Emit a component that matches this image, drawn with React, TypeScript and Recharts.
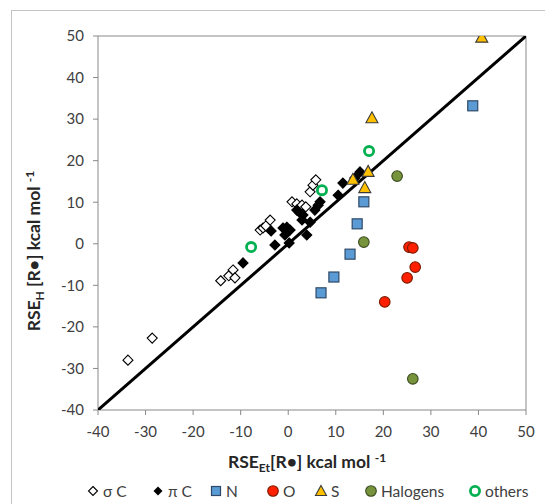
import { ScatterChart, Scatter, XAxis, YAxis, ReferenceLine, Label } from "recharts";

const ticks = [-40, -30, -20, -10, 0, 10, 20, 30, 40, 50];

const sigmaC = [
  { x: -33.7, y: -28 }, { x: -28.6, y: -22.7 }, { x: -14.2, y: -8.9 }, { x: -12.5, y: -7.7 },
  { x: -11.6, y: -6.3 }, { x: -11.2, y: -8.2 }, { x: -5.9, y: 3.3 }, { x: -5.3, y: 3.8 },
  { x: -4.7, y: 4.3 }, { x: -3.8, y: 5.7 }, { x: 0.8, y: 10.1 }, { x: 1.8, y: 9.6 },
  { x: 2.9, y: 9.3 }, { x: 3.7, y: 8.9 }, { x: 4.6, y: 12.5 }, { x: 5.2, y: 14.1 }, { x: 5.8, y: 15.4 },
];

const piC = [
  { x: -9.5, y: -4.6 }, { x: -3.6, y: 3.1 }, { x: -2.8, y: -0.3 }, { x: -1.1, y: 3.8 },
  { x: -0.3, y: 4.0 }, { x: 0.2, y: 0.2 }, { x: 0.4, y: 3.3 }, { x: -0.7, y: 2.1 },
  { x: 1.8, y: 8.1 }, { x: 2.5, y: 7.4 }, { x: 2.9, y: 5.7 }, { x: 3.1, y: 6.9 },
  { x: 3.9, y: 2.1 }, { x: 4.6, y: 5.2 }, { x: 5.6, y: 8.1 }, { x: 6.3, y: 9.3 },
  { x: 6.7, y: 10.1 }, { x: 10.5, y: 11.7 }, { x: 11.5, y: 14.6 }, { x: 14.0, y: 15.8 }, { x: 15.1, y: 17.3 },
];

const nitrogen = [
  { x: 15.9, y: 10.1 }, { x: 14.5, y: 4.8 }, { x: 13.0, y: -2.5 },
  { x: 9.6, y: -8.0 }, { x: 6.9, y: -11.8 }, { x: 38.8, y: 33.2 },
];

const oxygen = [
  { x: 25.4, y: -0.8 }, { x: 26.2, y: -1.0 }, { x: 26.7, y: -5.6 },
  { x: 25.0, y: -8.2 }, { x: 20.3, y: -14.0 },
];

const sulfur = [
  { x: 16.8, y: 17.3 }, { x: 13.6, y: 15.4 }, { x: 16.1, y: 13.4 },
  { x: 17.6, y: 30.2 }, { x: 40.7, y: 49.6 },
];

const halogens = [{ x: 22.9, y: 16.3 }, { x: 15.9, y: 0.4 }, { x: 26.2, y: -32.5 }];

const others = [{ x: 17.0, y: 22.3 }, { x: 7.1, y: 12.9 }, { x: -7.8, y: -0.8 }];

const diagonal = [{ x: -40, y: -40 }, { x: 50, y: 50 }];

const legendItems = [
  { name: "σ C", kind: "openDiamond", left: 78 },
  { name: "π C", kind: "diamond", left: 143 },
  { name: "N", kind: "square", left: 201 },
  { name: "O", kind: "circle", left: 258 },
  { name: "S", kind: "triangle", left: 306 },
  { name: "Halogens", kind: "olive", left: 356 },
  { name: "others", kind: "ring", left: 460 },
];

const gray = "#898989";
const font = "Lato, 'Open Sans', sans-serif";

const diamond = (fill: string) => (p: any) => {
  const { cx, cy } = p;
  const r = 5;
  return (
    <path
      d={`M${cx},${cy - r}L${cx + r},${cy}L${cx},${cy + r}L${cx - r},${cy}Z`}
      fill={fill}
      stroke="#000"
      strokeWidth={1.1}
    />
  );
};

const square = (p: any) => (
  <rect x={p.cx - 5} y={p.cy - 5} width={10} height={10} fill="#5B9BD5" stroke="#2F4A68" strokeWidth={1.2} />
);

const dot = (fill: string, stroke: string) => (p: any) => (
  <circle cx={p.cx} cy={p.cy} r={5.3} fill={fill} stroke={stroke} strokeWidth={1.1} />
);

const triangle = (p: any) => {
  const { cx, cy } = p;
  return (
    <path
      d={`M${cx},${cy - 6.5}L${cx + 6},${cy + 4.5}L${cx - 6},${cy + 4.5}Z`}
      fill="#FFC000"
      stroke="#3A3A3A"
      strokeWidth={1.1}
    />
  );
};

const ring = (p: any) => (
  <circle cx={p.cx} cy={p.cy} r={4.6} fill="#fff" stroke="#00B050" strokeWidth={2.8} />
);

const noShape = () => <g />;

function LegendSymbol({ kind }: { kind: string }) {
  const c = { cx: 7, cy: 8 };
  let el;
  if (kind === "openDiamond") el = <path d="M7,3.5L11.5,8L7,12.5L2.5,8Z" fill="#fff" stroke="#000" strokeWidth={1.1} />;
  else if (kind === "diamond") el = <path d="M7,3.5L11.5,8L7,12.5L2.5,8Z" fill="#000" />;
  else if (kind === "square") el = <rect x={2.5} y={3.5} width={9} height={9} fill="#5B9BD5" stroke="#2F4A68" strokeWidth={1.2} />;
  else if (kind === "circle") el = dot("#FF2000", "#7A1A00")(c);
  else if (kind === "triangle") el = <path d="M7,2.5L12.5,12.5L1.5,12.5Z" fill="#FFC000" stroke="#3A3A3A" strokeWidth={1.1} />;
  else if (kind === "olive") el = dot("#77933C", "#3A4A20")(c);
  else el = ring(c);
  return (
    <svg width={14} height={16} style={{ display: "block" }}>
      {el}
    </svg>
  );
}

const xTitle = (props: any) => {
  const { viewBox } = props;
  const cx = viewBox.x + viewBox.width / 2 - 5;
  return (
    <text x={cx} y={460} textAnchor="middle" fontFamily={font} fontSize={17.5} fontWeight="bold" fill="#262626">
      RSE
      <tspan dy={4} fontSize={12}>Et</tspan>
      <tspan dy={-4}>[R•] kcal mol </tspan>
      <tspan dy={-6} fontSize={12}>-1</tspan>
    </text>
  );
};

const yTitle = () => {
  const x = 32;
  const y = 243;
  return (
    <text
      x={x}
      y={y}
      transform={`rotate(-90 ${x} ${y})`}
      textAnchor="middle"
      fontFamily={font}
      fontSize={17.5}
      fontWeight="bold"
      fill="#262626"
    >
      RSE
      <tspan dy={4} fontSize={12}>H</tspan>
      <tspan dy={-4}> [R•] kcal mol </tspan>
      <tspan dy={-6} fontSize={12}>-1</tspan>
    </text>
  );
};

export default function App() {
  const tick = { fill: "#404040", fontSize: 15, fontFamily: font };
  return (
    <div style={{ position: "relative", width: 545, height: 496, overflow: "hidden", fontFamily: font }}>
      <div
        style={{
          position: "absolute",
          left: 3,
          top: 2,
          width: 700,
          height: 700,
          border: "1px solid #c4c4c4",
        }}
      />
      <ScatterChart width={545} height={496} margin={{ top: 28, right: 27, left: 30, bottom: 64 }}>
        <XAxis
          type="number"
          dataKey="x"
          domain={[-40, 50]}
          ticks={ticks}
          allowDataOverflow
          height={30}
          tick={tick}
          tickSize={5}
          tickMargin={11}
          stroke={gray}
        >
          <Label content={xTitle} />
        </XAxis>
        <YAxis
          type="number"
          dataKey="y"
          domain={[-40, 50]}
          ticks={ticks}
          allowDataOverflow
          width={60}
          tick={tick}
          tickSize={5}
          tickMargin={9}
          stroke={gray}
        >
          <Label content={yTitle} />
        </YAxis>
        <ReferenceLine y={50} stroke={gray} />
        <ReferenceLine x={50} stroke={gray} />
        <Scatter
          data={diagonal}
          line={{ stroke: "#000", strokeWidth: 3 }}
          shape={noShape}
          isAnimationActive={false}
        />
        <Scatter data={sigmaC} shape={diamond("#fff")} isAnimationActive={false} />
        <Scatter data={piC} shape={diamond("#000")} isAnimationActive={false} />
        <Scatter data={nitrogen} shape={square} isAnimationActive={false} />
        <Scatter data={oxygen} shape={dot("#FF2000", "#7A1A00")} isAnimationActive={false} />
        <Scatter data={sulfur} shape={triangle} isAnimationActive={false} />
        <Scatter data={halogens} shape={dot("#77933C", "#3A4A20")} isAnimationActive={false} />
        <Scatter data={others} shape={ring} isAnimationActive={false} />
      </ScatterChart>
      {legendItems.map((it) => (
        <div
          key={it.name}
          style={{
            position: "absolute",
            left: it.left,
            top: 474,
            display: "flex",
            alignItems: "center",
            gap: 3,
            fontSize: 15.5,
            color: "#404040",
            whiteSpace: "nowrap",
          }}
        >
          <LegendSymbol kind={it.kind} />
          <span>{it.name}</span>
        </div>
      ))}
    </div>
  );
}
